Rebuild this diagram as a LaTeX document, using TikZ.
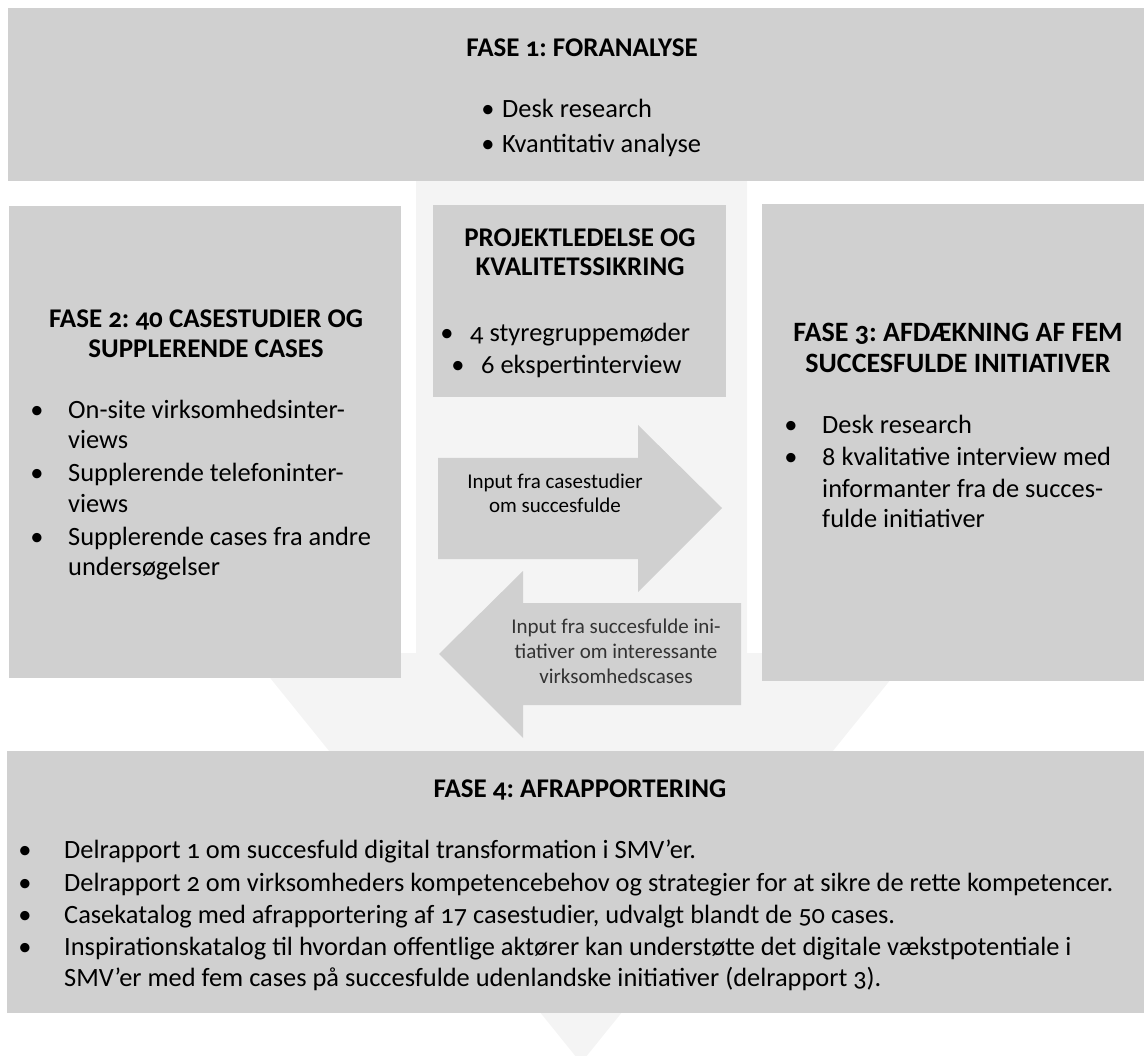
\documentclass[tikz,border=0pt]{standalone}
\usepackage{fontspec}
\setmainfont{Carlito}[Numbers=OldStyle]
\usepackage{xcolor}
\usepackage{tikz}
\definecolor{boxgrey}{HTML}{D0D0D0}
\definecolor{bandgrey}{HTML}{F4F4F4}
\frenchspacing

\begin{document}
\begin{tikzpicture}[x=1pt,y=-1pt]
\tikzstyle{every node}+=[inner sep=0pt]
\tikzstyle{head}=[font=\fontsize{27}{31}\selectfont\bfseries, anchor=base]
\tikzstyle{txt}=[font=\fontsize{26.4}{31}\selectfont, anchor=base west]
\tikzstyle{bul}=[font=\fontsize{26.4}{31}\selectfont, anchor=base]
\tikzstyle{small}=[font=\fontsize{21}{25}\selectfont, anchor=base]
\useasboundingbox (0,0) rectangle (1144,1056);
\clip (0,0) rectangle (1144,1056);
% big arrow in the background
\fill [bandgrey] (416,180) -- (747,180) -- (747,653) -- (912,653) -- (581,1063) -- (250,653) -- (416,653) -- cycle;
% boxes
\fill [boxgrey] (8,8) rectangle (1144,181);
\fill [boxgrey] (9,206) rectangle (401,678);
\fill [boxgrey] (433,205) rectangle (726,397);
\fill [boxgrey] (762,204) rectangle (1144,681);
\fill [boxgrey] (7,751) rectangle (1144,1013);
% input arrows
\fill [boxgrey] (438,458) -- (638,458) -- (638,425) -- (722,508) -- (638,592) -- (638,559) -- (438,559) -- cycle;
\fill [boxgrey] (741,603) -- (523,603) -- (523,571) -- (439,654) -- (523,738) -- (523,705) -- (741,705) -- cycle;
% fase 1
\node [head] (f1h) at (582,57) {FASE 1: FORANALYSE};
\node [bul] (f1b1) at (488,118) {\textbullet};
\node [txt] (f1t1) at (502,118) {Desk research};
\node [bul] (f1b2) at (488,153) {\textbullet};
\node [txt] (f1t2) at (502,153) {Kvantitativ analyse};
% fase 2
\node [head] (f2h1) at (206,328) {FASE 2: 40 CASESTUDIER OG};
\node [head] (f2h2) at (206,358) {SUPPLERENDE CASES};
\node [bul] (f2b1) at (37,419) {\textbullet};
\node [txt] (f2t1) at (68,419) {On-site virksomhedsinter-};
\node [txt] (f2t2) at (68,449) {views};
\node [bul] (f2b2) at (37,482) {\textbullet};
\node [txt] (f2t3) at (68,482) {Supplerende telefoninter-};
\node [txt] (f2t4) at (68,512) {views};
\node [bul] (f2b3) at (37,545) {\textbullet};
\node [txt] (f2t5) at (68,545) {Supplerende cases fra andre};
\node [txt] (f2t6) at (68,576) {undersøgelser};
% projektledelse
\node [head] (pkh1) at (580,247) {PROJEKTLEDELSE OG};
\node [head] (pkh2) at (580,276) {KVALITETSSIKRING};
\node [bul] (pkb1) at (447,342) {\textbullet};
\node [txt] (pkt1) at (470,342) {4 styregruppemøder};
\node [bul] (pkb2) at (458,374) {\textbullet};
\node [txt] (pkt2) at (481,374) {6 ekspertinterview};
% fase 3
\node [head, font=\fontsize{28}{32}\selectfont\bfseries] (f3h1) at (958,342) {FASE 3: AFDÆKNING AF FEM};
\node [head, font=\fontsize{28}{32}\selectfont\bfseries] (f3h2) at (958,373) {SUCCESFULDE INITIATIVER};
\node [bul] (f3b1) at (791,434) {\textbullet};
\node [txt] (f3t1) at (822,434) {Desk research};
\node [bul] (f3b2) at (791,466) {\textbullet};
\node [txt] (f3t2) at (822,466) {8 kvalitative interview med};
\node [txt] (f3t3) at (822,497) {informanter fra de succes-};
\node [txt] (f3t4) at (822,527) {fulde initiativer};
% arrow texts
\node [small] (in1a) at (555,489) {Input fra casestudier};
\node [small] (in1b) at (555,512) {om succesfulde};
\node [small, black!80] (in2a) at (616,633) {Input fra succesfulde ini-};
\node [small, black!80] (in2b) at (616,658) {tiativer om interessante};
\node [small, black!80] (in2c) at (616,683) {virksomhedscases};
% fase 4
\node [head] (f4h) at (580,797) {FASE 4: AFRAPPORTERING};
\node [bul] (f4b1) at (25,858) {\textbullet};
\node [txt] (f4t1) at (64,858) {Delrapport 1 om succesfuld digital transformation i SMV’er.};
\node [bul] (f4b2) at (25,891) {\textbullet};
\node [txt] (f4t2) at (64,891) {Delrapport 2 om virksomheders kompetencebehov og strategier for at sikre de rette kompetencer.};
\node [bul] (f4b3) at (25,923) {\textbullet};
\node [txt] (f4t3) at (64,923) {Casekatalog med afrapportering af 17 casestudier, udvalgt blandt de 50 cases.};
\node [bul] (f4b4) at (25,955) {\textbullet};
\node [txt] (f4t4) at (64,955) {Inspirationskatalog til hvordan offentlige aktører kan understøtte det digitale vækstpotentiale i};
\node [txt] (f4t5) at (64,986) {SMV’er med fem cases på succesfulde udenlandske initiativer (delrapport 3).};
\end{tikzpicture}
\end{document}
